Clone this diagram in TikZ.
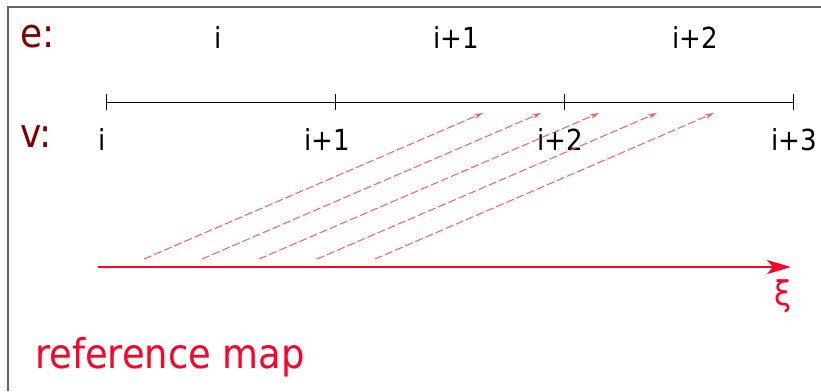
\documentclass[tikz,border=0pt]{standalone}
\usepackage{fontspec}
\setmainfont{DejaVu Sans}
\newfontfamily\cond{DejaVu Sans Condensed}
\usetikzlibrary{arrows.meta}
\definecolor{darkred}{RGB}{128,0,0}
\definecolor{xired}{RGB}{255,0,40}
\definecolor{lightred}{RGB}{255,90,90}
\definecolor{framegray}{RGB}{100,100,100}
\tikzset{
  idx/.style={font=\cond\fontsize{29}{34}\selectfont, anchor=base, inner sep=0pt, text=black},
  rowlab/.style={font=\cond\fontsize{40}{46}\selectfont, anchor=base west, inner sep=0pt, text=darkred},
  tickmark/.style={black, line width=1pt},
  mapping/.style={lightred, line width=1pt, dash pattern=on 8pt off 3pt, -{Stealth[length=9pt,width=5pt]}},
  xiaxis/.style={xired, line width=1.6pt, -{Stealth[length=24pt,width=14pt,inset=6pt]}}
}
\begin{document}
\begin{tikzpicture}[x=1pt,y=-1pt]
\useasboundingbox (0,0) rectangle (821,391);
\draw[framegray, line width=1.5pt] (8,391) -- (8,7) -- (821,7);
% labels
\node[rowlab] (elab) at (20,47) {e:};
\node[rowlab] (vlab) at (20,147) {v:};
\node[idx] (e0) at (218,48) {i};
\node[idx] (e1) at (456,48) {i+1};
\node[idx] (e2) at (695,48) {i+2};
% axis
\coordinate (t0) at (106,102);
\coordinate (t1) at (335,102);
\coordinate (t2) at (564,102);
\coordinate (t3) at (793,102);
\draw[tickmark] (t0) -- (t3);
\foreach \t in {t0,t1,t2,t3} \draw[tickmark] ([yshift=-8pt]\t) -- ([yshift=8pt]\t);
\node[idx] (v0) at (102,150) {i};
\node[idx] (v1) at (327,150) {i+1};
\node[idx] (v2) at (560,150) {i+2};
\node[idx] (v3) at (794,150) {i+3};
% mapping arrows
\foreach \i/\sx/\ex in {1/144/483, 2/202/541, 3/259/599, 4/317/657, 5/375/714} {
  \coordinate (a\i) at (\sx,259);
  \coordinate (b\i) at (\ex,113);
  \draw[mapping] (a\i) -- (b\i);
}
% xi axis
\coordinate (x0) at (98,267);
\coordinate (x1) at (791,267);
\draw[xiaxis] (x0) -- (x1);
\node[font=\cond\fontsize{34}{40}\selectfont, text=xired, inner sep=0pt] (xi) at (783,296) {ξ};
\node[font=\cond\fontsize{41}{48}\selectfont, text=xired, anchor=base west, inner sep=0pt] (ref) at (35,368) {reference map};
\end{tikzpicture}
\end{document}
